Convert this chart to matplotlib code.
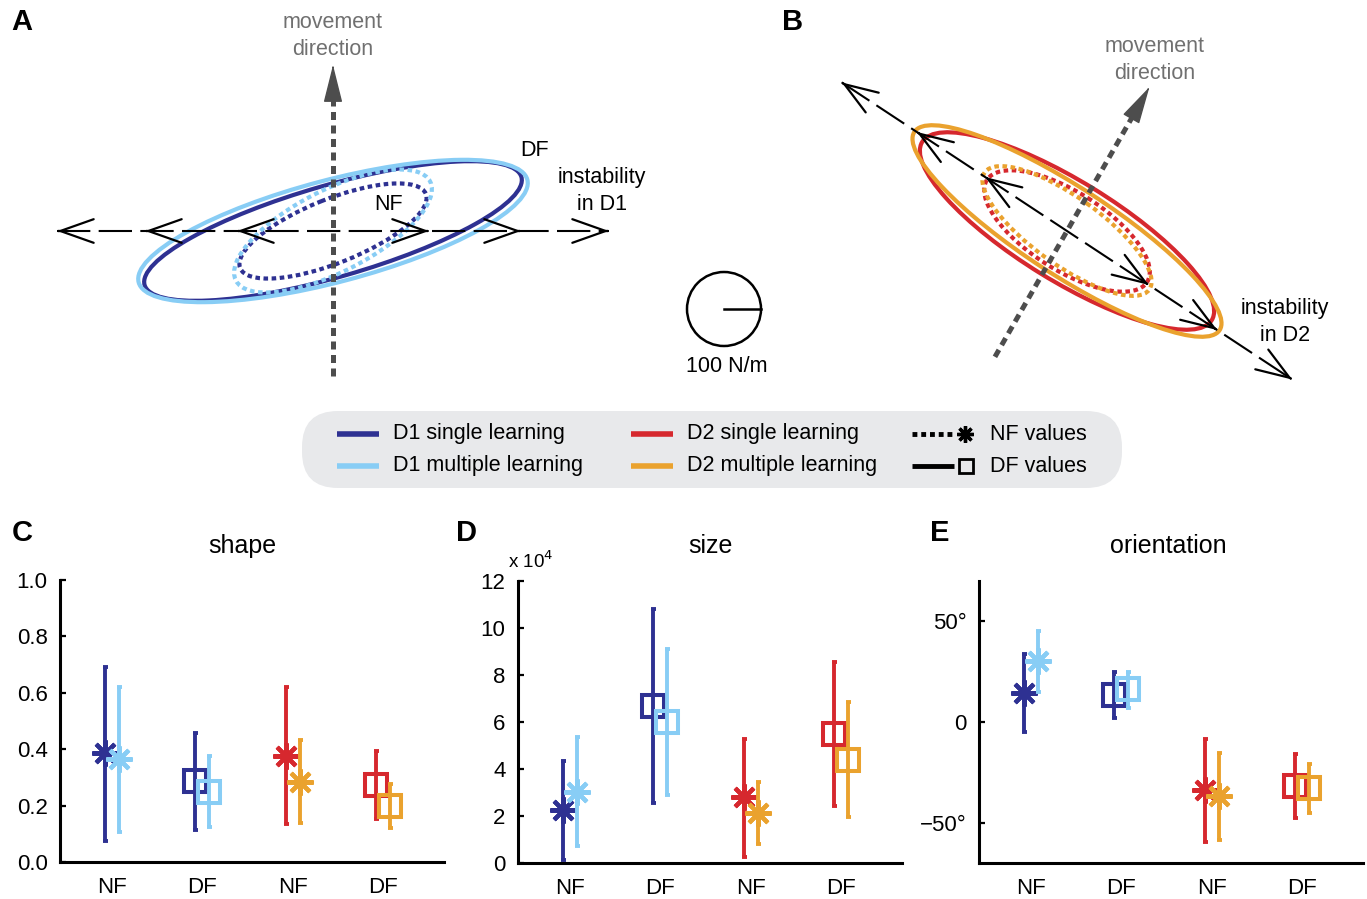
import numpy as np
import matplotlib
matplotlib.use('Agg')
import matplotlib.pyplot as plt
from matplotlib.patches import Ellipse, Circle, FancyBboxPatch

plt.rcParams['font.family'] = ['Liberation Sans', 'DejaVu Sans']

W, H = 1367, 899

# Renkler / colours
C_D1S = '#2e3192'
C_D1M = '#88cdf5'
C_D2S = '#d6282e'
C_D2M = '#eaa22e'
GRAY = '#4d4d4d'

# ---- data for C, D, E ----
categories = ['NF', 'DF', 'NF', 'DF']
# order: D1s NF, D1m NF, D1s DF, D1m DF, D2s NF, D2m NF, D2s DF, D2m DF
series_colors = [C_D1S, C_D1M, C_D1S, C_D1M, C_D2S, C_D2M, C_D2S, C_D2M]
series_group = [1, 1, 2, 2, 3, 3, 4, 4]
series_kind = ['NF', 'NF', 'DF', 'DF', 'NF', 'NF', 'DF', 'DF']

shape_mean = [0.385, 0.364, 0.287, 0.249, 0.376, 0.285, 0.273, 0.199]
shape_low = [0.075, 0.107, 0.113, 0.125, 0.135, 0.139, 0.152, 0.119]
shape_high = [0.692, 0.620, 0.459, 0.376, 0.622, 0.433, 0.394, 0.277]

# size in units of 10^4
size_mean = [2.24, 3.04, 6.69, 6.02, 2.79, 2.12, 5.48, 4.39]
size_low = [0.14, 0.71, 2.55, 2.90, 0.24, 0.81, 2.41, 1.94]
size_high = [4.32, 5.35, 10.8, 9.09, 5.28, 3.43, 8.54, 6.84]

orient_mean = [14.2, 30.2, 13.4, 16.2, -33.8, -36.6, -32.0, -33.0]
orient_low = [-5.0, 15.0, 1.8, 7.1, -59.7, -58.6, -47.7, -45.2]
orient_high = [33.8, 45.0, 24.8, 24.9, -8.6, -15.2, -16.0, -20.9]

# ---- ellipses for A and B (semi axes in N/m scale units, tilt in degrees) ----
ellA_a = [196, 201, 100, 109]
ellA_b = [46, 51, 32, 41]
ellA_tilt = [16.0, 14.8, 21.8, 27.0]
ellA_colors = [C_D1S, C_D1M, C_D1S, C_D1M]
ellA_solid = [True, True, False, False]

ellB_a = [170, 182, 95, 101]
ellB_b = [50, 44, 39, 34]
ellB_tilt = [-31.6, -33.0, -32.5, -35.5]
ellB_colors = [C_D2S, C_D2M, C_D2S, C_D2M]
ellB_solid = [True, True, False, False]

arrowA_len = [276, 188, 96]
arrowB_len = [270, 180, 98]

legend_labels = ['D1 single learning', 'D1 multiple learning',
                 'D2 single learning', 'D2 multiple learning']
legend_colors = [C_D1S, C_D1M, C_D2S, C_D2M]

fig = plt.figure(figsize=(W / 100, H / 100), dpi=100)


def px_axes(left, top, right, bottom):
    return fig.add_axes([left / W, 1 - bottom / H, (right - left) / W, (bottom - top) / H])


def draw_stats(ax, mean, low, high):
    for i in range(len(mean)):
        side = -1 if i % 2 == 0 else 1
        x = series_group[i] + side * 0.078
        col = series_colors[i]
        ax.errorbar(x, mean[i], yerr=[[mean[i] - low[i]], [high[i] - mean[i]]], fmt='none',
                    ecolor=col, elinewidth=2.8, capsize=1.8, capthick=2.8)
        if series_kind[i] == 'NF':
            ax.plot(x, mean[i], marker=(8, 2, 0), ms=19, mew=3.0, color=col, ls='none')
        else:
            ax.plot(x, mean[i], marker='s', ms=15.5, mfc='none', mec=col, mew=2.9, ls='none')
    ax.set_xlim(0.43, 4.67)
    ax.set_xticks([1, 2, 3, 4])
    ax.set_xticklabels(categories)
    for s in ['top', 'right']:
        ax.spines[s].set_visible(False)
    for s in ['left', 'bottom']:
        ax.spines[s].set_linewidth(2.2)
    ax.tick_params(axis='y', direction='in', length=4, width=1.6, labelsize=16, pad=9)
    ax.tick_params(axis='x', length=0, labelsize=16, pad=11)


axC = px_axes(60, 580, 444, 862)
draw_stats(axC, shape_mean, shape_low, shape_high)
axC.set_ylim(0, 1)
axC.set_yticks(np.arange(0, 1.01, 0.2))
axC.set_yticklabels(['%.1f' % v for v in np.arange(0, 1.01, 0.2)])

axD = px_axes(518, 581, 902, 863)
draw_stats(axD, size_mean, size_low, size_high)
axD.set_ylim(0, 12)
axD.set_yticks(range(0, 13, 2))

axE = px_axes(979, 581, 1363, 863)
draw_stats(axE, orient_mean, orient_low, orient_high)
axE.set_ylim(-70, 70)
axE.set_yticks([-50, 0, 50])
axE.set_yticklabels(['\u221250\u00b0', '0', '50\u00b0'])

# ---- overlay in pixel coordinates for A, B, legend and labels ----
ax0 = fig.add_axes([0, 0, 1, 1])
ax0.set_xlim(0, W)
ax0.set_ylim(H, 0)
ax0.axis('off')


def unit(deg):
    # screen angle -> data direction (y axis points down)
    return np.array([np.cos(np.radians(deg)), -np.sin(np.radians(deg))])


def open_head(tip, deg):
    u = unit(deg)
    ax0.annotate('', xy=tuple(tip), xytext=tuple(tip - 2 * u),
                 arrowprops=dict(arrowstyle='->,head_length=2.4,head_width=0.85', lw=1.6,
                                 color='k', shrinkA=0, shrinkB=0, mutation_scale=10), zorder=4)


def draw_panel(center, a_list, b_list, tilt_list, colors, solid, inst_deg, arrow_len, move_deg):
    center = np.array(center, dtype=float)
    for a, b, t, c, sol in zip(a_list, b_list, tilt_list, colors, solid):
        ls = '-' if sol else (0, (1.1, 0.85))
        ax0.add_patch(Ellipse(tuple(center), 2 * a, 2 * b, angle=-t, fill=False,
                              ec=c, lw=3.0, ls=ls, zorder=2))
    # instability axis with open arrowheads
    u = unit(inst_deg)
    p0 = center - arrow_len[0] * u
    p1 = center + arrow_len[0] * u
    ax0.plot([p0[0], p1[0]], [p0[1], p1[1]], color='k', lw=1.5, dashes=(16, 4), zorder=3)
    for L in arrow_len:
        open_head(center + L * u, inst_deg)
        open_head(center - L * u, inst_deg + 180)
    # movement direction
    m = unit(move_deg)
    tail = center - 145 * m
    tip = center + 166 * m
    base = tip - 26 * m
    ax0.plot([tail[0], base[0]], [tail[1], base[1]], color=GRAY, lw=3.6, dashes=(1.6, 1.1), zorder=3)
    ax0.annotate('', xy=tuple(tip), xytext=tuple(tip - 3 * m),
                 arrowprops=dict(arrowstyle='-|>,head_length=2.4,head_width=0.6', lw=1,
                                 color=GRAY, shrinkA=0, shrinkB=0, mutation_scale=10), zorder=4)


draw_panel((333, 231), ellA_a, ellA_b, ellA_tilt, ellA_colors, ellA_solid, 0, arrowA_len, 90)
draw_panel((1067, 231), ellB_a, ellB_b, ellB_tilt, ellB_colors, ellB_solid, -33.4, arrowB_len, 60.2)

fs = 15.5
ax0.text(333, 36, 'movement\ndirection', color='#707070', fontsize=fs, ha='center', va='center', linespacing=1.35)
ax0.text(1155, 60, 'movement\ndirection', color='#707070', fontsize=fs, ha='center', va='center', linespacing=1.35)
ax0.text(602, 191, 'instability\nin D1', fontsize=fs, ha='center', va='center', linespacing=1.35)
ax0.text(1285, 322, 'instability\nin D2', fontsize=fs, ha='center', va='center', linespacing=1.35)
ax0.text(535, 150, 'DF', fontsize=fs, ha='center', va='center')
ax0.text(389, 205, 'NF', fontsize=fs, ha='center', va='center')

# scale circle
ax0.add_patch(Circle((724, 309), 37, fill=False, ec='k', lw=1.8))
ax0.plot([724, 761], [309, 309], color='k', lw=1.8)
ax0.text(727, 366, '100 N/m', fontsize=fs, ha='center', va='center')

# legend box
ax0.add_patch(FancyBboxPatch((302, 411), 820, 77, boxstyle='round,pad=0,rounding_size=36',
                             fc='#e8e9eb', ec='none', zorder=1))
leg_x = [337, 337, 631, 631]
leg_y = [434, 466, 434, 466]
for lab, col, lx, ly in zip(legend_labels, legend_colors, leg_x, leg_y):
    ax0.plot([lx, lx + 42], [ly, ly], color=col, lw=4, solid_capstyle='butt', zorder=2)
    ax0.text(lx + 56, ly, lab, fontsize=fs, va='center', ha='left', zorder=2)
ax0.plot([912, 952], [434, 434], color='k', lw=3.5, ls=(0, (1, 0.8)), zorder=2)
ax0.plot(965, 434, marker=(8, 2, 0), ms=12, mew=2.4, color='k', zorder=2)
ax0.text(990, 434, 'NF values', fontsize=fs, va='center', ha='left', zorder=2)
ax0.plot([912, 954], [466, 466], color='k', lw=3.5, solid_capstyle='butt', zorder=2)
ax0.plot(966, 466, marker='s', ms=10, mfc='none', mec='k', mew=2, zorder=2)
ax0.text(990, 466, 'DF values', fontsize=fs, va='center', ha='left', zorder=2)

# panel letters and titles
for lab, x, y in [('A', 22, 22), ('B', 793, 22), ('C', 22, 533), ('D', 467, 533), ('E', 940, 533)]:
    ax0.text(x, y, lab, fontsize=21, fontweight='bold', ha='center', va='center')
for lab, x in [('shape', 242), ('size', 710), ('orientation', 1168)]:
    ax0.text(x, 546, lab, fontsize=18, ha='center', va='center')
ax0.text(508, 561, 'x 10$^4$', fontsize=13.5, ha='left', va='center')

fig.savefig('out.png', dpi=100)
